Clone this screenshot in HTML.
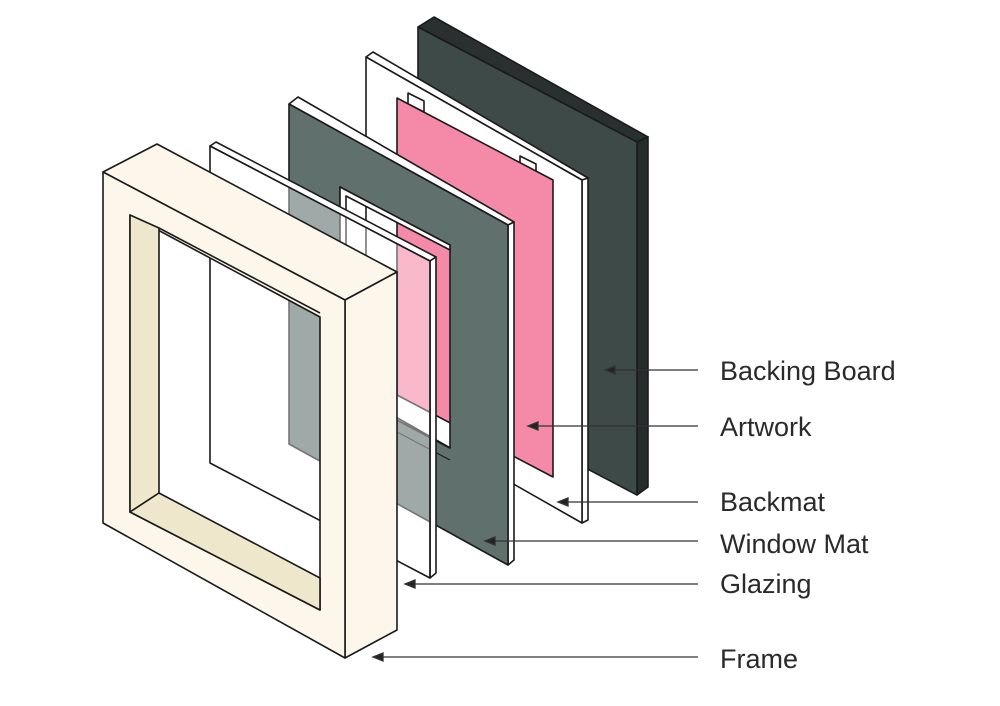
<!DOCTYPE html>
<html><head><meta charset="utf-8"><style>
html,body{margin:0;padding:0;background:#fff;}
svg{display:block;}
text{font-family:"Liberation Sans",sans-serif;font-size:27px;fill:#2a2a2a;}
</style></head><body>
<svg width="1000" height="706" viewBox="0 0 1000 706" xmlns="http://www.w3.org/2000/svg">
<g stroke="#1a1a1a" stroke-width="1.6" stroke-linejoin="round">
<!-- Backing board -->
<polygon points="418,27 434,17 648,137 637,142" fill="#2a3030"/>
<polygon points="637,142 648,137 648,487 637,495" fill="#262c2c"/>
<polygon points="418,27 637,142 637,495 418,380" fill="#3e4a48"/>
<!-- Backmat -->
<polygon points="366,57 373,52 588,178 582,180" fill="#fff"/>
<polygon points="582,180 588,178 588,520 582,523" fill="#fff"/>
<polygon points="366,57 582,180 582,523 366,400" fill="#fff"/>
<!-- tabs -->
<polygon points="408,93 424,101 424,112 408,104" fill="#fff"/>
<polygon points="520,156 536,164 536,175 520,167" fill="#fff"/>
<!-- Artwork -->
<polygon points="397,98 553,180 553,477 397,395" fill="#f58aa8"/>
<!-- Window mat -->
<polygon points="289,104 298,97 514,222 508,225" fill="#fff"/>
<polygon points="508,225 514,222 514,560 508,565" fill="#fff"/>
<path fill-rule="evenodd" fill="#5f706d" d="M289,104 L508,225 L508,565 L289,444 Z M340,187 L450,245 L450,448 L340,390 Z"/>
<polygon points="340,187 450,245 450,250 346,196 346,393 340,390" fill="#fff"/>
<line x1="397" y1="420" x2="450" y2="448"/>
<line x1="397" y1="432" x2="450" y2="460" stroke-width="1"/>
<!-- Glazing -->
<polygon points="210,146 216,142 436,257 430,261" fill="#fff"/>
<polygon points="430,261 436,257 436,573 430,578" fill="#fff"/>
<polygon points="210,146 430,261 430,578 210,463" fill="#fff" fill-opacity="0.4"/>
<!-- Frame -->
<polygon points="103,172 157,144 397,272 345,300" fill="#fdf6ea"/>
<polygon points="345,300 397,272 397,630 345,658" fill="#fdf6ea"/>
<path fill-rule="evenodd" fill="#fdf6ea" d="M103,172 L345,300 L345,658 L103,523 Z M130,215 L320,317 L320,610 L130,512 Z"/>
<polygon points="130,215 159,228 159,493 130,512" fill="#efe7cc"/>
<polygon points="130,512 159,493 320,578 320,610" fill="#efe7cc"/>
<line x1="159" y1="228" x2="320" y2="313"/>
</g>
<!-- leaders -->
<g stroke="#333" stroke-width="1.3" fill="#222">
<line x1="612" y1="370" x2="698" y2="370"/><polygon points="605,370 615,366 615,374"/>
<line x1="535" y1="426" x2="698" y2="426"/><polygon points="528,426 538,422 538,430"/>
<line x1="565" y1="502" x2="698" y2="502"/><polygon points="558,502 568,498 568,506"/>
<line x1="492" y1="541" x2="698" y2="541"/><polygon points="485,541 495,537 495,545"/>
<line x1="412" y1="584" x2="698" y2="584"/><polygon points="405,584 415,580 415,588"/>
<line x1="380" y1="657" x2="698" y2="657"/><polygon points="373,657 383,653 383,661"/>
</g>
<text x="720" y="380">Backing Board</text>
<text x="720" y="436">Artwork</text>
<text x="720" y="511">Backmat</text>
<text x="720" y="553">Window Mat</text>
<text x="720" y="593">Glazing</text>
<text x="720" y="668">Frame</text>
</svg>
</body></html>
